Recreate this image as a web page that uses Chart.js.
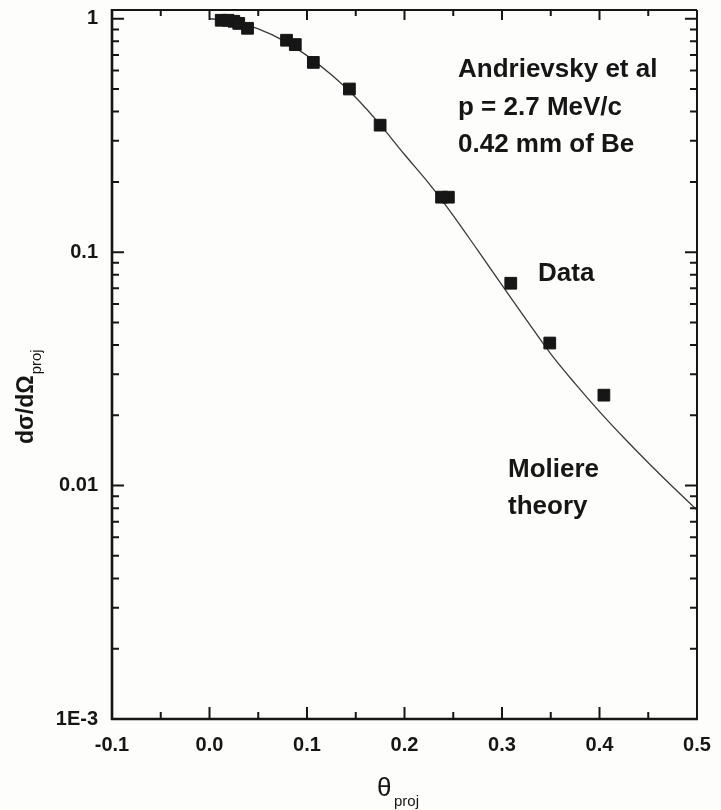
<!DOCTYPE html>
<html>
<head>
<meta charset="utf-8">
<script src="https://cdn.jsdelivr.net/npm/chart.js@4/dist/chart.umd.min.js"></script>
<style>
  html, body { margin: 0; padding: 0; background: #fdfdfb; }
  canvas { display: block; }
</style>
</head>
<body>
<canvas id="chart" width="721" height="810"></canvas>
<script>
// Measured angular distribution (projected angle, normalised cross section)
const dataTheta = [0.012, 0.019, 0.025, 0.030, 0.039, 0.079, 0.088, 0.1065, 0.1435, 0.175, 0.238, 0.245, 0.309, 0.349, 0.4045];
const dataSigma = [0.985, 0.985, 0.975, 0.955, 0.91, 0.809, 0.775, 0.65, 0.50, 0.35, 0.172, 0.172, 0.0736, 0.0408, 0.0244];

// Moliere theory curve
const theoryTheta = [0.000, 0.025, 0.050, 0.075, 0.100, 0.125, 0.150, 0.175, 0.200, 0.225, 0.250, 0.275, 0.300, 0.325, 0.350, 0.375, 0.400, 0.425, 0.450, 0.475, 0.500];
const theorySigma = [1.00, 0.975, 0.905, 0.81, 0.695, 0.575, 0.46, 0.352, 0.262, 0.197, 0.1435, 0.102, 0.0723, 0.0513, 0.0367, 0.02735, 0.02075, 0.01603, 0.01253, 0.00989, 0.00785];

// Axis ticks
const xTickValues = [-0.1, -0.05, 0.0, 0.05, 0.1, 0.15, 0.2, 0.25, 0.3, 0.35, 0.4, 0.45, 0.5];
const xTickLabels = ['-0.1', '', '0.0', '', '0.1', '', '0.2', '', '0.3', '', '0.4', '', '0.5'];
const yDecades = [0.001, 0.01, 0.1];
const yDecadeLabels = ['1E-3', '0.01', '0.1', '1'];

const INK = '#161616';
const FONT = '"Liberation Sans", Arial, Helvetica, sans-serif';

const yTickValues = [];
yDecades.forEach(d => { for (let m = 1; m <= 9; m++) yTickValues.push(+(m * d).toPrecision(3)); });
yTickValues.push(1);
const yMajor = yDecades.concat([1]);

function yLabelFor(v) {
  const i = yMajor.findIndex(d => Math.abs(v - d) / d < 1e-6);
  return i >= 0 ? yDecadeLabels[i] : '';
}

// Frame, inward ticks on all four sides and the text annotations
const framePlugin = {
  id: 'frame',
  afterDatasetsDraw(chart) {
    const { ctx, chartArea: a, scales } = chart;
    const xs = scales.x, ys = scales.y;
    ctx.save();
    ctx.strokeStyle = INK;
    ctx.lineCap = 'butt';

    // frame
    ctx.lineWidth = 2;
    ctx.beginPath();
    ctx.moveTo(a.left, a.top); ctx.lineTo(a.right, a.top);
    ctx.moveTo(a.right, a.top); ctx.lineTo(a.right, a.bottom);
    ctx.stroke();
    ctx.lineWidth = 2.6;
    ctx.beginPath();
    ctx.moveTo(a.left, a.top - 1); ctx.lineTo(a.left, a.bottom + 1);
    ctx.moveTo(a.left - 1, a.bottom); ctx.lineTo(a.right + 1, a.bottom);
    ctx.stroke();

    // x ticks (bottom pointing up, top pointing down)
    ctx.lineWidth = 2;
    xs.ticks.forEach(t => {
      const px = xs.getPixelForValue(t.value);
      if (px <= a.left + 1 || px >= a.right - 1) return;
      const major = xTickLabels[xTickValues.findIndex(v => Math.abs(v - t.value) < 1e-9)] !== '';
      const len = major ? 12 : 7;
      ctx.beginPath();
      ctx.moveTo(px, a.bottom); ctx.lineTo(px, a.bottom - len);
      ctx.moveTo(px, a.top); ctx.lineTo(px, a.top + (major ? 10 : 6));
      ctx.stroke();
    });

    // y ticks (left pointing right, right pointing left)
    ys.ticks.forEach(t => {
      const py = ys.getPixelForValue(t.value);
      if (py >= a.bottom - 1 || py <= a.top + 1) return;
      const major = yLabelFor(t.value) !== '';
      const len = major ? 12 : 7;
      ctx.beginPath();
      ctx.moveTo(a.left, py); ctx.lineTo(a.left + len, py);
      ctx.moveTo(a.right, py); ctx.lineTo(a.right - len, py);
      ctx.stroke();
    });

    // annotations
    ctx.fillStyle = INK;
    ctx.textAlign = 'left';
    ctx.textBaseline = 'alphabetic';
    ctx.font = 'bold 26px ' + FONT;
    ctx.fillText('Andrievsky et al', 458, 77);
    ctx.fillText('p = 2.7 MeV/c', 458, 115);
    ctx.fillText('0.42 mm of Be', 458, 152);
    ctx.fillText('Data', 538, 281);
    ctx.fillText('Moliere', 508, 477);
    ctx.fillText('theory', 508, 514);

    // x axis title: θ_proj
    ctx.font = '26px ' + FONT;
    ctx.fillText('θ', 377, 796);
    ctx.font = '15px ' + FONT;
    ctx.fillText('proj', 394, 806);

    // y axis title: dσ/dΩ_proj (rotated)
    ctx.translate(33, 444);
    ctx.rotate(-Math.PI / 2);
    ctx.font = 'bold 23px ' + FONT;
    ctx.fillText('dσ/dΩ', 0, 0);
    const w = ctx.measureText('dσ/dΩ').width;
    ctx.font = '15px ' + FONT;
    ctx.fillText('proj', w + 1, 8);
    ctx.restore();
  }
};

// Keep the plot frame where it belongs: no extra room for overhanging tick labels
function noOverhang(s) {
  s.paddingTop = 0;
  s.paddingBottom = 0;
  s.paddingLeft = 0;
  s.paddingRight = 0;
}

new Chart(document.getElementById('chart'), {
  type: 'scatter',
  data: {
    datasets: [
      {
        label: 'Data',
        data: dataTheta.map((x, i) => ({ x, y: dataSigma[i] })),
        pointStyle: 'rect',
        pointRadius: 8.3,
        pointBorderWidth: 1,
        backgroundColor: INK,
        borderColor: INK,
        showLine: false,
        order: 1
      },
      {
        label: 'Moliere theory',
        data: theoryTheta.map((x, i) => ({ x, y: theorySigma[i] })),
        showLine: true,
        pointRadius: 0,
        borderColor: '#3a3a3a',
        borderWidth: 1.3,
        cubicInterpolationMode: 'monotone',
        fill: false,
        order: 2
      }
    ]
  },
  options: {
    responsive: false,
    animation: false,
    events: [],
    layout: { padding: { top: 10, right: 24, bottom: 0, left: 0 } },
    plugins: {
      legend: { display: false },
      tooltip: { enabled: false },
      title: { display: false }
    },
    scales: {
      x: {
        type: 'linear',
        min: -0.1,
        max: 0.5,
        afterBuildTicks: s => { s.ticks = xTickValues.map(v => ({ value: v })); },
        afterFit: s => { s.height = 91; noOverhang(s); },
        grid: { display: false, drawTicks: false },
        border: { display: false },
        ticks: {
          autoSkip: false,
          maxRotation: 0,
          padding: 14,
          color: INK,
          font: { family: FONT, size: 20, weight: 'bold' },
          callback: v => {
            const i = xTickValues.findIndex(t => Math.abs(t - v) < 1e-9);
            return i >= 0 ? xTickLabels[i] : '';
          }
        }
      },
      y: {
        type: 'logarithmic',
        min: 0.001,
        max: 1.09,
        afterBuildTicks: s => { s.ticks = yTickValues.map(v => ({ value: v })); },
        afterFit: s => { s.width = 112; noOverhang(s); },
        grid: { display: false, drawTicks: false },
        border: { display: false },
        ticks: {
          autoSkip: false,
          padding: 14,
          color: INK,
          font: { family: FONT, size: 20, weight: 'bold' },
          callback: v => yLabelFor(v)
        }
      }
    }
  },
  plugins: [framePlugin]
});
</script>
</body>
</html>
